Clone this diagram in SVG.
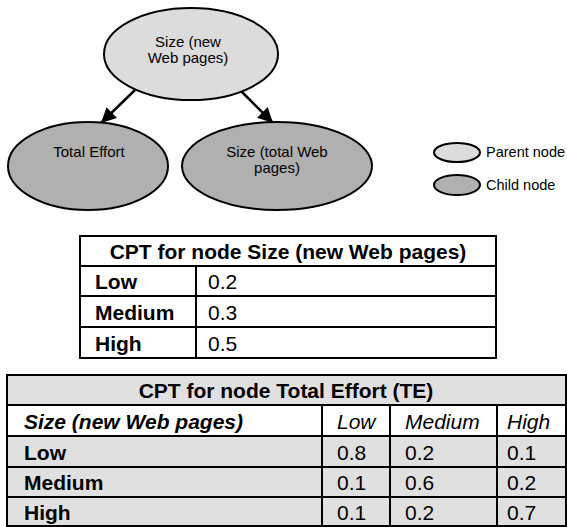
<svg xmlns="http://www.w3.org/2000/svg" width="567" height="527" viewBox="0 0 567 527">
<defs>
<marker id="ah" viewBox="0 0 10 10" refX="10" refY="5" markerWidth="6" markerHeight="6" orient="auto" markerUnits="strokeWidth">
<path d="M0,0 L10,5 L0,10 z" fill="#000"/>
</marker>
<style>
text{font-family:"Liberation Sans",Arial,sans-serif;fill:#000}
.nl{font-size:15px;text-anchor:middle}
.lg{font-size:14.5px}
.t{font-size:21px}
.b{font-weight:bold}
.i{font-style:italic}
.c{text-anchor:middle}
.par{fill:#dcdcdc;stroke:#000;stroke-width:2}
.chi{fill:#b0b0b0;stroke:#000;stroke-width:2}
.grid{stroke:#000;stroke-width:2;fill:none}
.conn{stroke:#000;stroke-width:2.5;fill:none;marker-end:url(#ah)}
</style>
</defs>
<rect width="567" height="527" fill="#fff"/>

<g id="connectors">
<line class="conn" x1="135" y1="90" x2="101" y2="123"/>
<line class="conn" x1="240" y1="90" x2="273" y2="123"/>
</g>

<g id="node-size-new">
<ellipse class="par" cx="191" cy="54" rx="87" ry="46"/>
<text class="nl" x="188" y="47">Size (new</text>
<text class="nl" x="188" y="63">Web pages)</text>
</g>

<g id="node-total-effort">
<ellipse class="chi" cx="88" cy="166" rx="80" ry="44"/>
<text class="nl" x="89" y="157">Total Effort</text>
</g>

<g id="node-size-total">
<ellipse class="chi" cx="277" cy="166" rx="95" ry="44"/>
<text class="nl" x="277" y="157">Size (total Web</text>
<text class="nl" x="277" y="173">pages)</text>
</g>

<g id="legend">
<ellipse class="par" cx="457" cy="152.5" rx="23" ry="9.5"/>
<text class="lg" x="486" y="157">Parent node</text>
<ellipse class="chi" cx="457" cy="185" rx="23" ry="10"/>
<text class="lg" x="486" y="190">Child node</text>
</g>

<g id="table-size">
<rect x="80" y="236" width="416" height="122" fill="#fff"/>
<path class="grid" d="M80,236 H496 V358 H80 Z M80,266 H496 M80,296 H496 M80,327 H496 M196,266 V358"/>
<text class="t b c" x="288" y="259">CPT for node Size (new Web pages)</text>
<text class="t b" x="95" y="289">Low</text>
<text class="t" x="208" y="289">0.2</text>
<text class="t b" x="95" y="320">Medium</text>
<text class="t" x="208" y="320">0.3</text>
<text class="t b" x="95" y="351">High</text>
<text class="t" x="208" y="351">0.5</text>
</g>

<g id="table-te">
<rect x="7" y="375" width="559" height="151" fill="#e0e0e0"/>
<rect x="7" y="405" width="559" height="31" fill="#fff"/>
<path class="grid" d="M7,375 H566 V526 H7 Z M7,405 H566 M7,436 H566 M7,467 H566 M7,497 H566 M322,405 V526 M390,405 V526 M497,405 V526"/>
<text class="t b c" x="286" y="398">CPT for node Total Effort (TE)</text>
<text class="t b i" x="24" y="429">Size (new Web pages)</text>
<text class="t i" x="337" y="429">Low</text>
<text class="t i" x="405" y="429">Medium</text>
<text class="t i" x="507" y="429">High</text>
<text class="t b" x="24" y="460">Low</text>
<text class="t" x="337" y="460">0.8</text>
<text class="t" x="405" y="460">0.2</text>
<text class="t" x="507" y="460">0.1</text>
<text class="t b" x="24" y="490">Medium</text>
<text class="t" x="337" y="490">0.1</text>
<text class="t" x="405" y="490">0.6</text>
<text class="t" x="507" y="490">0.2</text>
<text class="t b" x="24" y="520">High</text>
<text class="t" x="337" y="520">0.1</text>
<text class="t" x="405" y="520">0.2</text>
<text class="t" x="507" y="520">0.7</text>
</g>
</svg>
